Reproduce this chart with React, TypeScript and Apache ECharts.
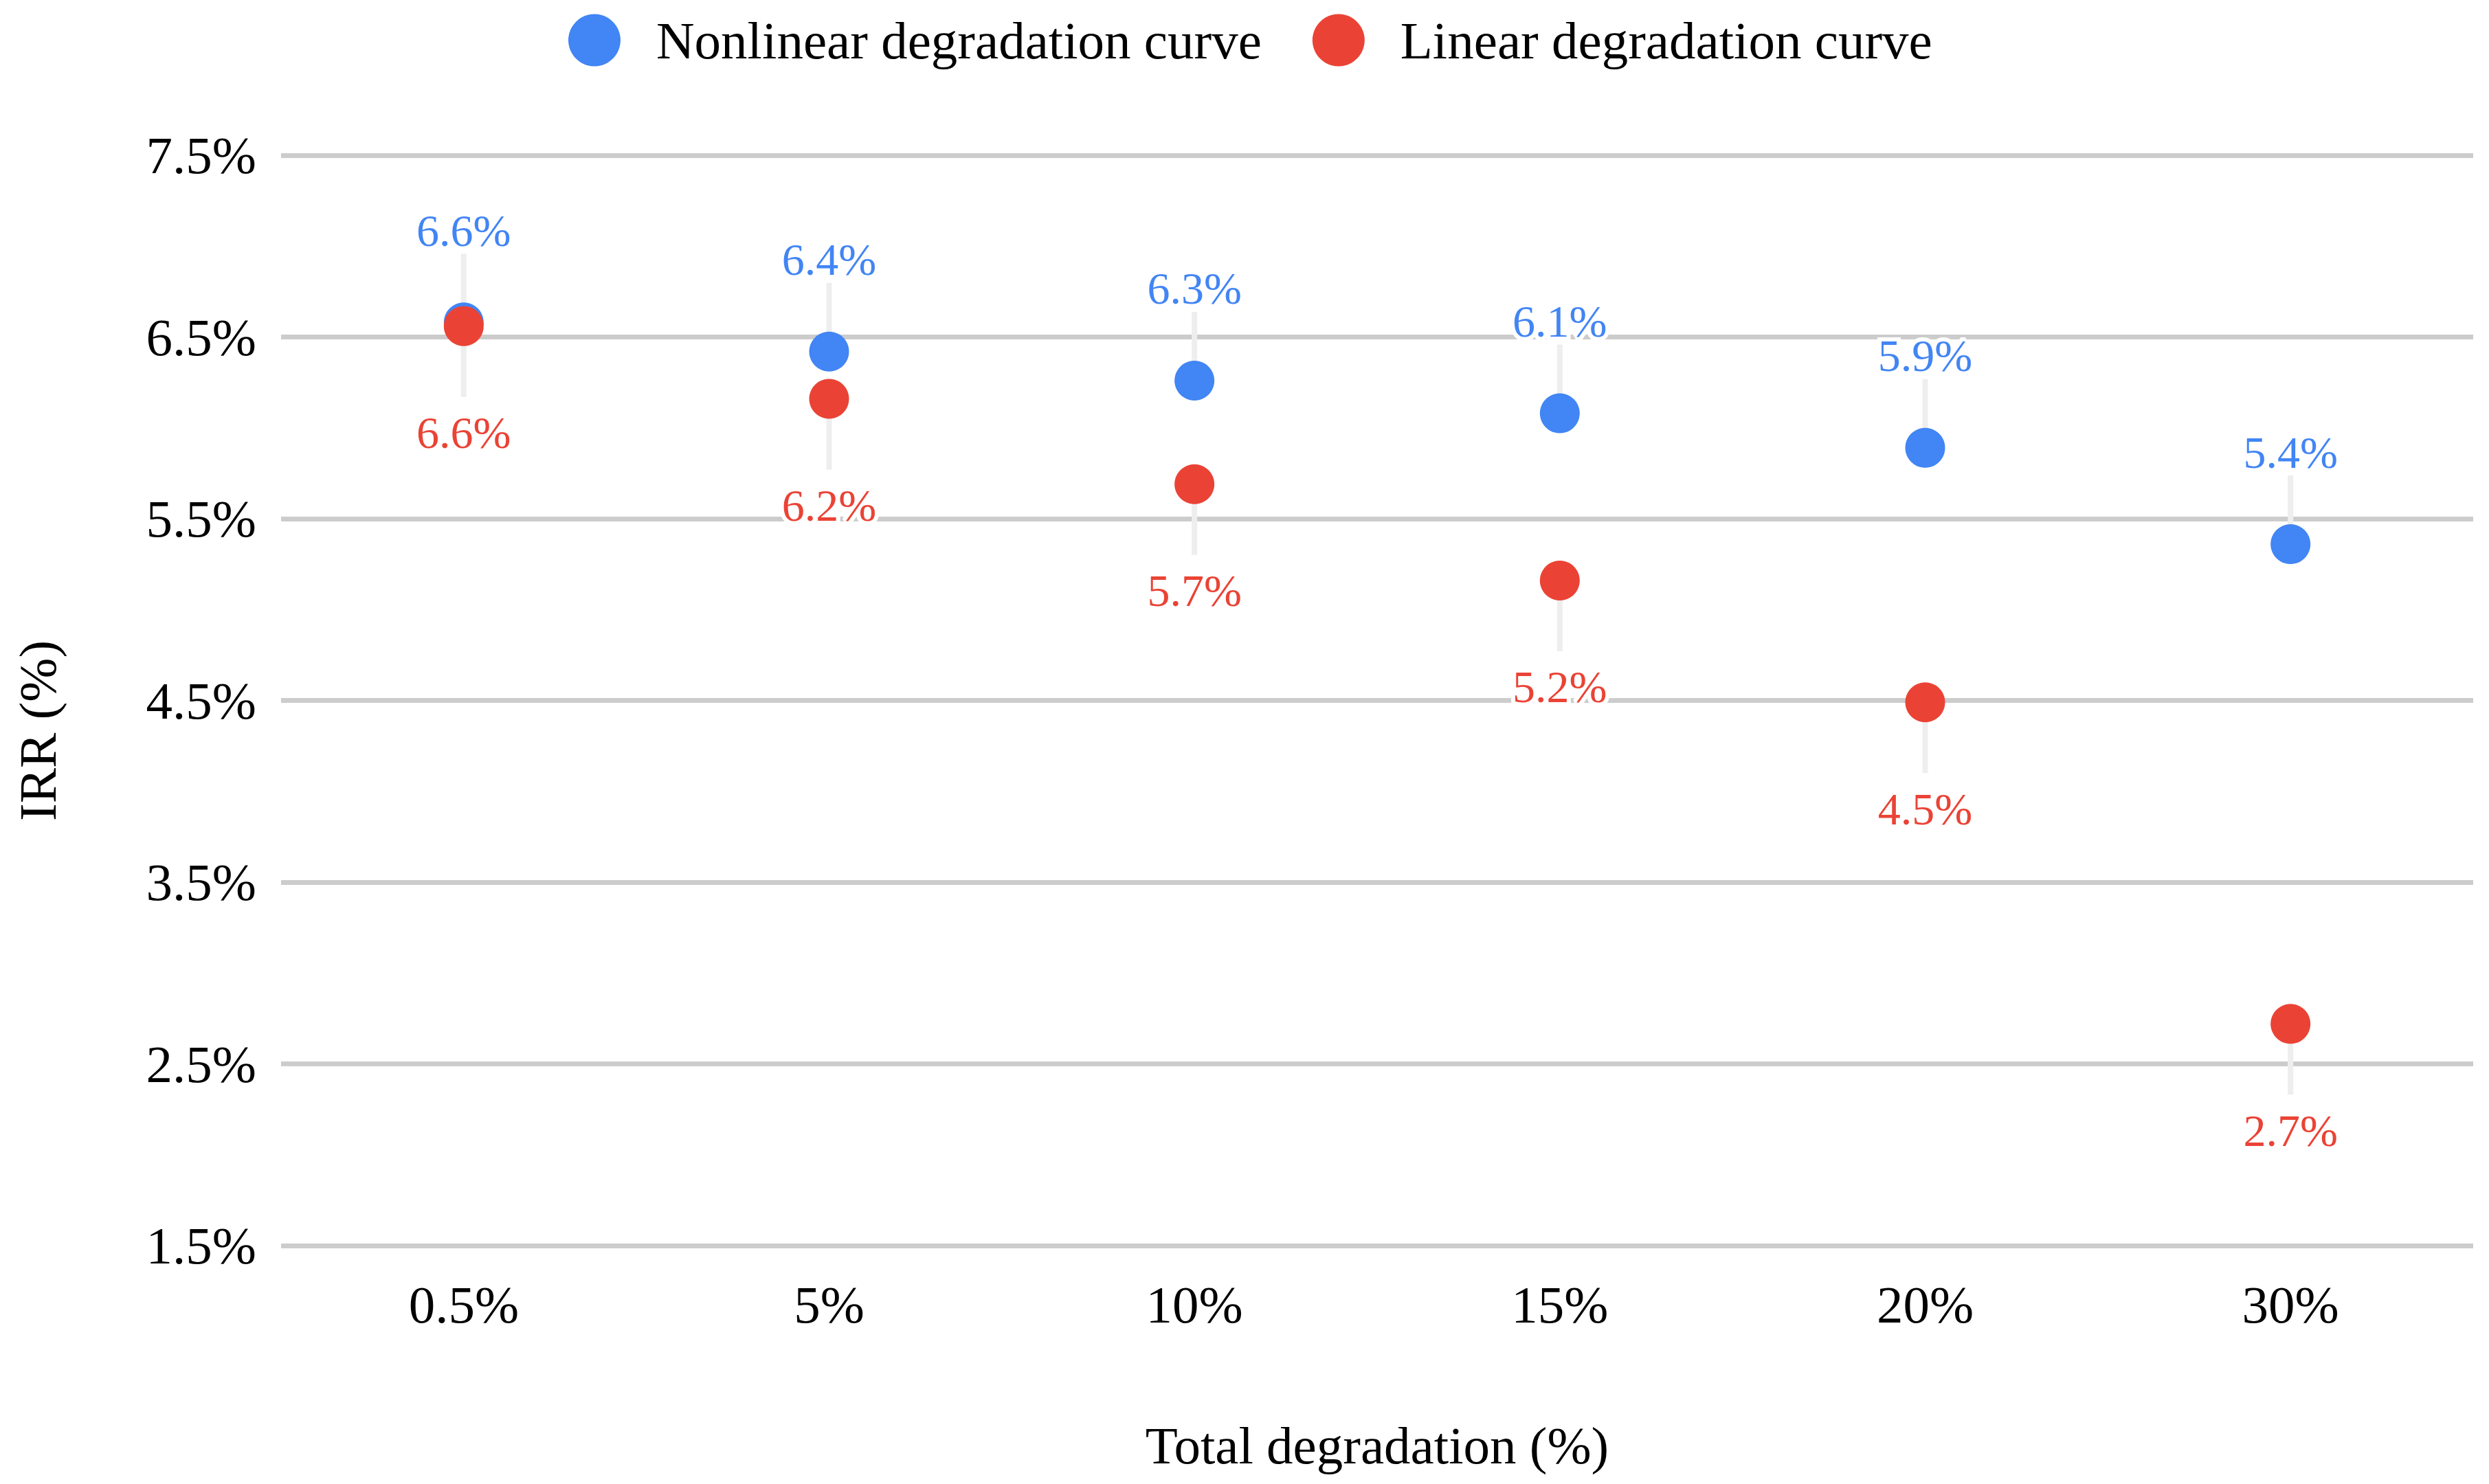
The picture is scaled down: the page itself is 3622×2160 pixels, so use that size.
import React, { useEffect, useRef } from "react";
import * as echarts from "echarts";

const categories = ["0.5%", "5%", "10%", "15%", "20%", "30%"];
const nonlinearIRR = [6.58, 6.42, 6.26, 6.08, 5.89, 5.36];
const linearIRR = [6.56, 6.16, 5.69, 5.16, 4.49, 2.72];
const seriesNames = ["Nonlinear degradation curve", "Linear degradation curve"];
const yMin = 1.5;
const yMax = 7.5;
const yStep = 1;

const FONT = '"Liberation Serif", "Times New Roman", serif';
const BLUE = "#4285F4";
const RED = "#EA4335";

const pct = (v: number) => v.toFixed(1) + "%";

function leaderSeries(name: string, data: number[], dir: number, len: number) {
  return {
    type: "custom",
    name,
    silent: true,
    z: 1,
    data: data.map((v, i) => [i, v]),
    encode: { x: 0, y: 1 },
    renderItem: (_params: any, api: any) => {
      const p = api.coord([api.value(0), api.value(1)]);
      return {
        type: "line",
        shape: { x1: p[0], y1: p[1], x2: p[0], y2: p[1] + dir * len },
        style: { stroke: "#eeeeee", lineWidth: 8 },
      };
    },
  };
}

function dotSeries(name: string, data: number[], color: string, position: string, distance: number, z: number) {
  return {
    type: "scatter",
    name,
    data,
    symbol: "circle",
    symbolSize: 58,
    z,
    itemStyle: { color, opacity: 1 },
    emphasis: { disabled: true },
    label: {
      show: true,
      position,
      distance,
      formatter: (p: any) => pct(p.value),
      color,
      fontFamily: FONT,
      fontSize: 66,
      textBorderColor: "#ffffff",
      textBorderWidth: 12,
    },
  };
}

export default function App() {
  const ref = useRef<HTMLDivElement>(null);
  useEffect(() => {
    if (!ref.current) return;
    const chart = echarts.init(ref.current, undefined, { renderer: "svg" });
    chart.setOption({
      animation: false,
      backgroundColor: "#ffffff",
      legend: {
        data: seriesNames,
        top: 15,
        left: 822,
        itemWidth: 170,
        itemHeight: 76,
        itemGap: 74,
        icon: "circle",
        textStyle: { fontFamily: FONT, fontSize: 77, color: "#000000" },
      },
      grid: { left: 409, right: 23, top: 226, bottom: 347, containLabel: false },
      xAxis: {
        type: "category",
        data: categories,
        boundaryGap: true,
        axisLine: { show: false },
        axisTick: { show: false },
        splitLine: { show: false },
        axisLabel: { margin: 47, fontFamily: FONT, fontSize: 77, color: "#000000" },
        name: "Total degradation (%)",
        nameLocation: "middle",
        nameGap: 252,
        nameTextStyle: { fontFamily: FONT, fontSize: 77, color: "#000000" },
      },
      yAxis: {
        type: "value",
        min: yMin,
        max: yMax,
        interval: yStep,
        axisLine: { show: false },
        axisTick: { show: false },
        splitLine: { lineStyle: { color: "#cccccc", width: 7 } },
        axisLabel: { margin: 36, formatter: (v: number) => pct(v), fontFamily: FONT, fontSize: 77, color: "#000000" },
        name: "IRR (%)",
        nameLocation: "middle",
        nameGap: 316,
        nameRotate: 90,
        nameTextStyle: { fontFamily: FONT, fontSize: 77, color: "#000000", padding: [0, 88, 0, 0] },
      },
      series: [
        leaderSeries("nonlinear-leader", nonlinearIRR, -1, 100),
        leaderSeries("linear-leader", linearIRR, 1, 103),
        dotSeries(seriesNames[0], nonlinearIRR, BLUE, "top", 72, 2),
        dotSeries(seriesNames[1], linearIRR, RED, "bottom", 93, 3),
      ],
    });
    return () => chart.dispose();
  }, []);
  return <div ref={ref} style={{ position: "fixed", left: 0, top: 0, width: 3622, height: 2160 }} />;
}
